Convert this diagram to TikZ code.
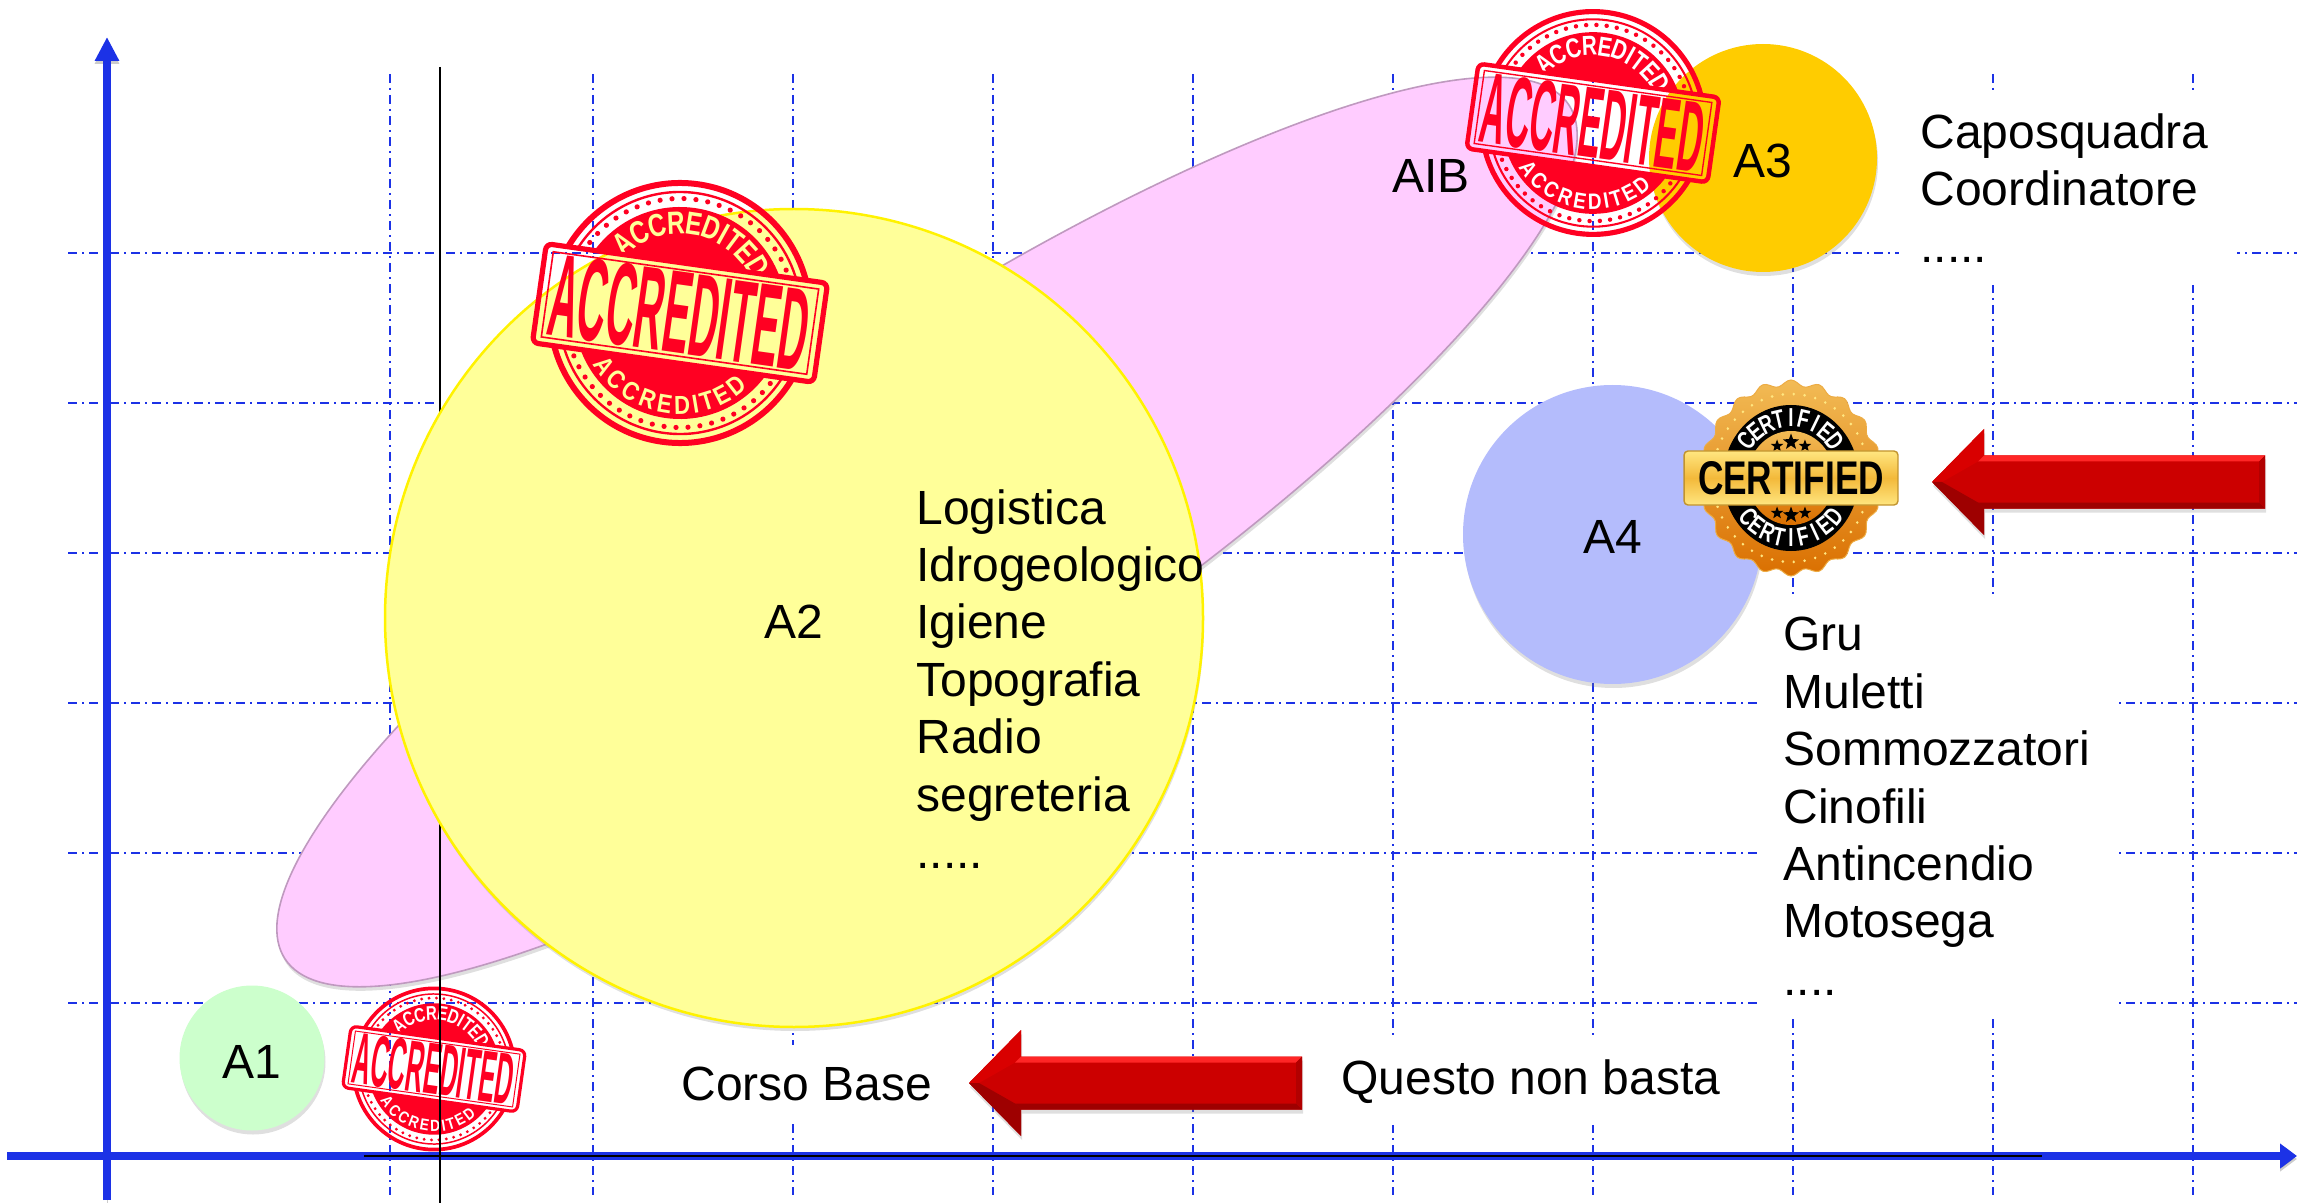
\documentclass[tikz,border=0pt]{standalone}
\usepackage{fontspec}
\setmainfont{Liberation Sans}
\usepackage{xcolor}
\usetikzlibrary{arrows.meta,shadows,shapes.geometric}
\definecolor{axisblue}{HTML}{1C32E6}
\definecolor{stampred}{HTML}{FF0022}
\definecolor{softyellow}{HTML}{FFFF99}
\definecolor{softpink}{HTML}{FFCCFF}
\definecolor{deepamber}{HTML}{FFCC00}
\definecolor{softblue}{HTML}{B4BCFC}
\definecolor{sealtop}{HTML}{F2BB55}
\definecolor{sealbot}{HTML}{DA6F00}
\definecolor{ribbonlight}{HTML}{FFE680}
\definecolor{ribbonmid}{HTML}{F3B93A}
\tikzset{
    softshadow/.style = {drop shadow={opacity=0.25, shadow xshift=0.5pt, shadow yshift=-2pt}},
    gridline/.style = {axisblue, line width=1.2pt, dash pattern=on 4.5pt off 2.5pt on 1pt off 2.5pt},
    axisline/.style = {axisblue, line width=4pt, preaction={draw=black, opacity=0.2, transform canvas={yshift=-1.5pt}}},
    bubble/.style = {circle, inner sep=0pt, text height=20pt, font=\fontsize{24}{28.7}\selectfont, softshadow},
    listbox/.style = {fill=white, anchor=north west, align=left, inner ysep=11pt, inner xsep=10.5pt, font=\fontsize{24}{28.7}\selectfont},
    plainlabel/.style = {inner sep=0pt, align=left, font=\fontsize{24}{28.7}\selectfont},
    redarrow/.pic = {
        \fill[red!80!black, softshadow] (0,0) -- (52,-53) -- (52,-26.5) -- (333,-26.5) -- (333,26.5) -- (52,26.5) -- (52,53) -- cycle;
        \fill[red!85!black] (0,0) -- (52,-53) -- (52,-26.5) -- (46,-20.5) -- (10,0) -- cycle;
        \fill[red!62!black] (0,0) -- (52,53) -- (52,26.5) -- (46,20.5) -- (10,0) -- cycle;
        \fill[red!85!white] (52,-26.5) -- (333,-26.5) -- (327,-20.5) -- (46,-20.5) -- cycle;
        \fill[red!62!black] (46,20.5) -- (327,20.5) -- (333,26.5) -- (52,26.5) -- cycle;
        \fill[red!70!black] (333,-26.5) -- (333,26.5) -- (327,20.5) -- (327,-20.5) -- cycle;
    },
}

% name, x, y, scale, colour seen through the small letters
\newcommand{\stampmark}[5]{
\begin{scope}[shift={(#2,#3)}, x=0.5pt, y=0.5pt, scale=#4, rotate=-8]
    \begin{scope}
        \clip (-170,-170) -- (170,-170) -- (170,170) -- (-170,170) -- cycle (-142,-50) -- (-142,50) -- (142,50) -- (142,-50) -- cycle;
        \draw[stampred, line width={3pt*#4}] (0,0) circle (130);
        \draw[stampred, line width={1.2pt*#4}] (0,0) circle (121);
        \foreach \a in {0,6,...,354}
            \fill[stampred] (\a:114.5) circle (2.6);
        \fill[stampred] (0,0) circle (106);
        \foreach \ch/\upang/\lowang [count=\i] in {A/137/-137, C/124.9/-125.5, C/112.8/-114, R/100.7/-102.5, E/89.2/-91.6, D/77.7/-80.7, I/68.9/-72.4, T/61.1/-64.9, E/50.5/-54.9, D/39/-44} {
            \node[#5, font=\fontsize{16}{16}\bfseries, rotate=\upang-90, transform shape, inner sep=0pt] (#1top\i) at (\upang:90) {\scalebox{0.76}[1]{\ch}};
            \node[#5, font=\fontsize{13}{13}\bfseries, rotate=\lowang+90, transform shape, inner sep=0pt] (#1low\i) at (\lowang:92) {\scalebox{0.85}[1]{\ch}};
        }
    \end{scope}
    \draw[stampred, line width={2.6pt*#4}, rounded corners=3pt] (-142,-50) rectangle (142,50);
    \draw[stampred, line width={0.8pt*#4}] (-134,-43) rectangle (134,43);
    \node[stampred, transform shape, inner sep=0pt] (#1big) at (0,0) {\resizebox{130pt}{41pt}{\bfseries ACCREDITED}};
\end{scope}
}

\begin{document}
\begin{tikzpicture}[x=0.5pt, y=-0.5pt]
\useasboundingbox (0,0) rectangle (2297,1203);

% grid
\foreach \gx in {390,593,793,993,1193,1393,1593,1793,1993,2193}
    \draw[gridline] (\gx,74) -- (\gx,1195);
\foreach \gy in {253,403,553,703,853,1003}
    \draw[gridline] (68,\gy) -- (2297,\gy);

% axes
\coordinate (xstart) at (7,1156);
\coordinate (xtip) at (2297,1156);
\coordinate (ystart) at (107,1200);
\coordinate (ytip) at (107,37);
\draw[axisline, -{Triangle[length=8.5pt, width=12pt]}] (xstart) -- (xtip);
\draw[axisline, -{Triangle[length=12pt, width=11.5pt]}] (ystart) -- (ytip);

% lists on white
\node[listbox, text width=148pt] (topjobs) at (1899,91) {Caposquadra\\Coordinatore\\.....};
\node[listbox, text width=157pt] (speclist) at (1762,595) {Gru\\Muletti\\Sommozzatori\\Cinofili\\Antincendio\\Motosega\\....};
\node[listbox] (basecourse) at (660,1045) {Corso Base};
\node[listbox] (notenough) at (1320,1037) {Questo non basta};

% bubbles
\node[ellipse, fill=softpink, draw=softpink!75!black, line width=0.8pt, rotate=33.65, minimum width=771pt, minimum height=187pt, inner sep=0pt, softshadow] (aib) at (927,532) {};
\node[plainlabel, anchor=base] (aiblabel) at (1431,193) {AIB};
\node[bubble, fill=green!20, minimum size=72.5pt] (aone) at (252,1058) {A1};
\stampmark{sone}{434}{1069}{0.62}{white}
\coordinate (blacktop) at (440,67);
\coordinate (blacklow) at (440,1203);
\coordinate (blackleft) at (364,1156);
\coordinate (blackright) at (2042,1156);
\draw[black, line width=1.3pt] (blacktop) -- (blacklow);
\draw[black, line width=1.3pt] (blackleft) -- (blackright);
\node[bubble, fill=softyellow, draw=yellow, line width=1.25pt, minimum size=409pt] (atwo) at (794,618) {A2};
\node[bubble, fill=deepamber, minimum size=114pt] (athree) at (1763,158) {A3};
\node[bubble, fill=softblue, text height=19pt, minimum size=149.5pt] (afour) at (1612.5,534.5) {A4};

\node[plainlabel, anchor=north west] (logilist) at (916,489) {Logistica\\Idrogeologico\\Igiene\\Topografia\\Radio\\segreteria\\.....};

\stampmark{stwo}{680}{313}{1}{softyellow}
\stampmark{sthree}{1593}{123}{0.857}{white}

% certified seal
\begin{scope}[shift={(1791,478)}, x=0.465pt, y=0.5pt]
    \shade[top color=sealtop, bottom color=sealbot, draw=sealtop!80!sealbot, line width=0.5pt]
        plot[domain=0:358, samples=180, smooth cycle] (\x:{95+3*cos(20*\x)});
    \foreach \a in {0,8,...,352}
        \fill[ribbonlight] (\a:84) circle (1.5);
    \fill[black] (0,0) circle (73);
    \shade[top color=sealtop, bottom color=sealbot] (0,0) circle (47);
    \foreach \ch [count=\i] in {C,E,R,T,I,F,I,E,D} {
        \pgfmathsetmacro{\ang}{142-(\i-1)*104/8}
        \node[white, font=\fontsize{13}{13}\bfseries, rotate=\ang-90, inner sep=0pt] (sealtop\i) at (\ang:60) {\scalebox{0.72}[1]{\ch}};
        \pgfmathsetmacro{\ang}{-140+(\i-1)*100/8}
        \node[white, font=\fontsize{13}{13}\bfseries, rotate=\ang+90, inner sep=0pt] (seallow\i) at (\ang:60) {\scalebox{0.72}[1]{\ch}};
    }
    \foreach \sx/\sy/\sz [count=\i] in {0/36/8.5pt, -15/32/6.5pt, 15/32/6.5pt, 0/-37/8.5pt, -15/-35/6.5pt, 15/-35/6.5pt}
        \node[star, star points=5, star point ratio=2.4, fill=black, inner sep=0pt, minimum size=\sz] (sealstar\i) at (\sx,\sy) {};
    \shade[top color=ribbonlight, bottom color=ribbonlight, middle color=ribbonmid, draw=ribbonmid!80!black, line width=0.7pt, rounded corners=2pt] (-115,-27) rectangle (115,27);
    \node[inner sep=0pt] (sealbig) at (0,0) {\resizebox{93pt}{16.5pt}{\bfseries CERTIFIED}};
\end{scope}

% red arrows
\pic (lowarrow) at (969,1083) {redarrow};
\pic (toparrow) at (1932,482) {redarrow};
\end{tikzpicture}
\end{document}
